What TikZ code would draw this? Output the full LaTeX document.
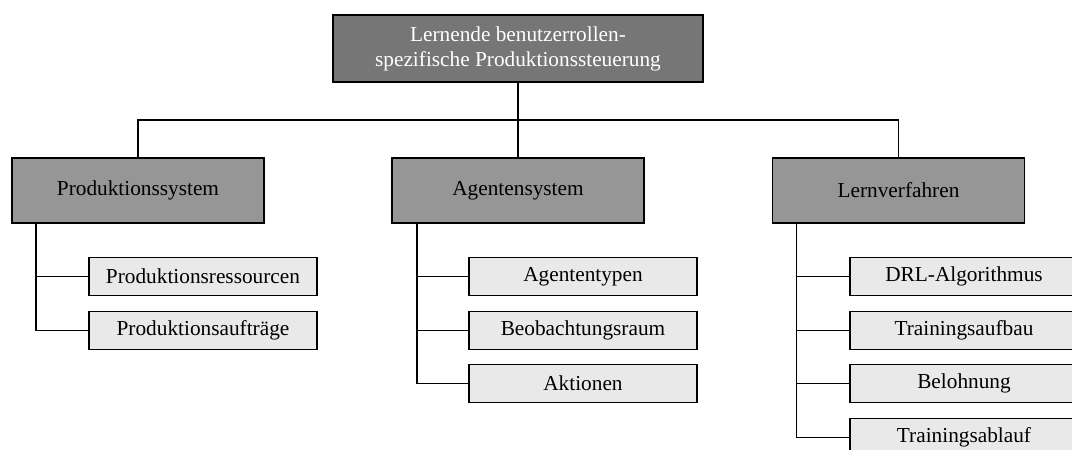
\documentclass[tikz,border=0pt]{standalone}
\usepackage{fontspec}
\setmainfont{Liberation Serif}
\begin{document}
\begin{tikzpicture}[x=1pt,y=-1pt,
  every node/.style={font=\fontsize{21.3}{25}\selectfont},
  rootbox/.style={draw=black, line width=1.8pt, fill={rgb,255:red,118;green,118;blue,118},
    text=white, align=center, minimum width=370pt, minimum height=67pt, inner sep=0pt},
  areabox/.style={draw=black, line width=1.8pt, fill={rgb,255:red,150;green,150;blue,150},
    minimum width=252pt, minimum height=65pt, inner sep=0pt},
  itembox/.style={draw=black, line width=1.8pt, fill={rgb,255:red,233;green,233;blue,233},
    minimum width=228pt, minimum height=38pt, inner sep=0pt},
  link/.style={draw=black, line width=1.6pt}]
\useasboundingbox (0,0) rectangle (1072,450);
\clip (0,0) rectangle (1072,450);

% root
\node[rootbox] (root) at (518,48.5) {Lernende benutzerrollen-\\spezifische Produktionssteuerung};

% second level
\node[areabox] (ps) at (138,190.5) {Produktionssystem};
\node[areabox] (as) at (518,190.5) {Agentensystem};
\node[areabox] (lv) at (898.5,190.5) {Lernverfahren};

% bus between root and second level
\coordinate (bus) at (518,120);
\draw[link] (root.south) -- (bus);
\draw[link] (ps.north) |- (bus) -| (lv.north);
\draw[link] (bus) -- (as.north);

% items
\node[itembox] (pr) at (203,276.5) {Produktionsressourcen};
\node[itembox] (pa) at (203,330.5) {Produktionsaufträge};

\node[itembox] (at) at (583,276.5) {Agententypen};
\node[itembox] (br) at (583,330.5) {Beobachtungsraum};
\node[itembox] (ak) at (583,383.5) {Aktionen};

\node[itembox] (dr) at (964,276.5) {DRL-Algorithmus};
\node[itembox] (ta) at (964,330.5) {Trainingsaufbau};
\node[itembox] (be) at (964,383.5) {Belohnung};
\node[itembox] (tl) at (964,437.5) {Trainingsablauf};

% trunks on the left of each group
\coordinate (pst) at ([xshift=25pt]ps.south west);
\coordinate (ast) at ([xshift=26pt]as.south west);
\coordinate (lvt) at ([xshift=25pt]lv.south west);

\draw[link] (pst) |- (pa.west);
\draw[link] (pr.west) -- (pr.west -| pst);

\draw[link] (ast) |- (ak.west);
\draw[link] (at.west) -- (at.west -| ast);
\draw[link] (br.west) -- (br.west -| ast);

\draw[link] (lvt) |- (tl.west);
\draw[link] (dr.west) -- (dr.west -| lvt);
\draw[link] (ta.west) -- (ta.west -| lvt);
\draw[link] (be.west) -- (be.west -| lvt);
\end{tikzpicture}
\end{document}
